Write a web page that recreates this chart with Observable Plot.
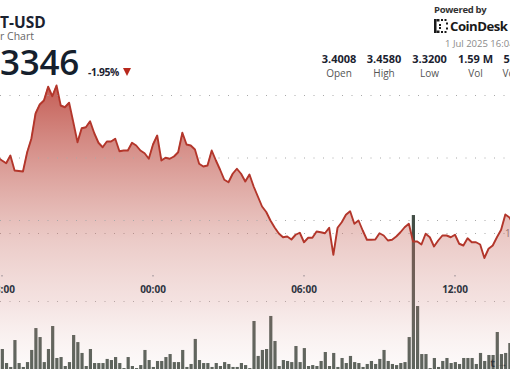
<!DOCTYPE html>
<html><head><meta charset="utf-8">
<script src="https://cdn.jsdelivr.net/npm/d3@7"></script>
<script src="https://cdn.jsdelivr.net/npm/@observablehq/plot@0.6"></script>
<style>
html,body{margin:0;padding:0;background:#fff;}
#wrap{position:relative;width:510px;height:369px;overflow:hidden;font-family:"Open Sans",sans-serif;background:#fff;}
.layer{position:absolute;left:0;top:0;}
.t{position:absolute;white-space:nowrap;line-height:1;}
.stat{position:absolute;width:60px;text-align:center;line-height:1;white-space:nowrap;}
.sv{font-weight:700;font-size:11px;color:#1b2230;}
.sl{font-size:10px;color:#555;margin-top:4px;}
</style></head><body>
<div id="wrap">
  <div id="vol" class="layer"></div>
  <div id="price" class="layer"></div>
  <div class="t cut" data-cut="DO" style="top:14.5px;font-size:15.5px;font-weight:700;color:#1b2230;line-height:0.95;">DOT-USD</div>
  <div class="t cut" data-cut="24 Hou" style="top:31.5px;font-size:10.5px;color:#666;line-height:0.95;">24 Hour Chart</div>
  <div class="t cut" data-cut="3." style="top:44px;font-size:35px;font-weight:600;color:#151f2d;letter-spacing:-0.3px;">3.3346</div>
  <div class="t" style="left:88px;top:67px;font-size:10.3px;font-weight:700;color:#1b2230;letter-spacing:-0.4px;">-1.95%</div>
  <div style="position:absolute;left:123px;top:68px;width:0;height:0;border-left:4.5px solid transparent;border-right:4.5px solid transparent;border-top:8px solid #b8281c;"></div>
  <div class="t" style="left:434px;top:5.3px;font-size:9.5px;font-weight:700;color:#333;letter-spacing:-0.3px;">Powered by</div>
  <svg style="position:absolute;left:434px;top:19px;" width="14" height="14" viewBox="0 0 14 14">
    <g fill="#1a1a1a">
      <rect x="0" y="0" width="2.5" height="14"/><rect x="2.5" y="0" width="3" height="2.5"/><rect x="2.5" y="11.5" width="3" height="2.5"/>
      <rect x="7" y="0" width="2" height="2"/><rect x="10.5" y="0" width="2" height="2"/><rect x="12" y="3.5" width="2" height="2"/>
      <rect x="12" y="8.5" width="2" height="2"/><rect x="7" y="12" width="2" height="2"/><rect x="10.5" y="12" width="2" height="2"/>
      <rect x="5" y="5" width="2" height="2"/><rect x="5" y="8" width="2" height="2"/>
    </g>
  </svg>
  <div class="t" style="left:450px;top:19.8px;font-size:13.2px;font-weight:700;color:#1a1a1a;letter-spacing:-0.5px;">CoinDesk</div>
  <div class="t" style="left:445px;top:38.5px;font-size:9.5px;color:#8a8a8a;">1 Jul 2025 16:04</div>
  <div id="stats"></div>
</div>
<script>
// ---- data ----
const statValues = ["3.4008", "3.4580", "3.3200", "1.59 M", "5.36 M"];
const statLabels = ["Open", "High", "Low", "Vol", "Vol USD"];
const statCenters = [339, 384, 429.5, 475.5, 521];

// price, 10-minute points from 30 Jun 2025 17:50
const priceStart = Date.UTC(2025, 5, 30, 17, 50);
const prices = [
  3.4004, 3.3980, 3.3958, 3.4020, 3.3900, 3.3896, 3.3892, 3.4046, 3.4154, 3.4356,
  3.4428, 3.4460, 3.4570, 3.4494, 3.4580, 3.4420, 3.4406, 3.4442, 3.4286, 3.4126,
  3.4238, 3.4246, 3.4294, 3.4198, 3.4122, 3.4086, 3.4132, 3.4132, 3.4154, 3.4054,
  3.4060, 3.4060, 3.4122, 3.4100, 3.4060, 3.4038, 3.3994, 3.4108, 3.4180, 3.3980,
  3.4002, 3.3994, 3.4012, 3.4046, 3.4202, 3.4108, 3.4100, 3.4068, 3.3954, 3.3932,
  3.3940, 3.4060, 3.3980, 3.3906, 3.3826, 3.3806, 3.3874, 3.3914, 3.3874, 3.3812,
  3.3868, 3.3772, 3.3692, 3.3612, 3.3568, 3.3500, 3.3444, 3.3396, 3.3366, 3.3372,
  3.3348, 3.3386, 3.3402, 3.3326, 3.3362, 3.3362, 3.3412, 3.3406, 3.3398, 3.3442,
  3.3225, 3.3442, 3.3486, 3.3546, 3.3574, 3.3474, 3.3500, 3.3420, 3.3346, 3.3346,
  3.3348, 3.3398, 3.3380, 3.3340, 3.3346, 3.3372, 3.3406, 3.3446, 3.3474, 3.3332,
  3.3332, 3.3308, 3.3394, 3.3366, 3.3292, 3.3340, 3.3380, 3.3380, 3.3366, 3.3386,
  3.3314, 3.3300, 3.3358, 3.3326, 3.3326, 3.3308, 3.3200, 3.3274, 3.3300, 3.3366,
  3.3426, 3.3548, 3.3524, 3.3460
];

// volume (thousands), 10-minute bars from 30 Jun 2025 18:00
const volStart = Date.UTC(2025, 5, 30, 18, 0);
const volumes = [
  14.7, 4.4, 1.5, 21.3, 4.4, 1.5, 5.1, 14.0, 30.1, 23.5,
  5.1, 14.7, 31.6, 8.1, 8.8, 2.2, 5.1, 25.0, 19.8, 11.8,
  2.2, 14.7, 4.4, 4.4, 4.4, 7.4, 6.6, 8.8, 4.4, 0.7,
  8.8, 2.2, 0.7, 2.9, 14.0, 6.6, 1.5, 5.9, 5.9, 8.8,
  11.0, 5.1, 5.1, 14.0, 1.5, 3.7, 22.1, 6.6, 4.4, 4.4,
  1.5, 4.4, 2.2, 5.1, 3.7, 1.5, 1.5, 4.4, 2.9, 0.7,
  35.3, 9.6, 14.0, 14.7, 39.0, 20.6, 2.2, 6.6, 5.9, 5.1,
  16.9, 5.1, 15.4, 2.2, 2.9, 2.2, 5.9, 12.5, 2.2, 11.8,
  1.5, 8.1, 4.4, 9.6, 5.1, 4.4, 1.5, 3.7, 5.9, 3.7,
  7.4, 14.0, 5.9, 3.7, 2.9, 4.4, 5.1, 23.5, 113.2, 46.3,
  11.0, 11.0, 0.7, 8.1, 1.5, 5.9, 8.1, 4.4, 5.1, 3.7,
  8.1, 8.1, 8.1, 3.7, 11.8, 5.9, 10.3, 10.3, 27.2, 11.0,
  11.8, 19.1, 14.7
];

const priceGrid = [3.35, 3.40, 3.45];
const volGrid = [50, 100];
const volGridLabels = ["", "100K"];
const timeTicks = [
  Date.UTC(2025, 5, 30, 18), Date.UTC(2025, 6, 1, 0),
  Date.UTC(2025, 6, 1, 6), Date.UTC(2025, 6, 1, 12)
].map(d => new Date(d));

// visible window and value ranges
const xDomain = [new Date(Date.UTC(2025, 5, 30, 17, 56, 25)), new Date(Date.UTC(2025, 6, 1, 14, 12, 19))];
const priceDomain = [3.2308, 3.526];
const volDomain = [0, 271.3];

const MIN = 60000;
const priceData = prices.map((p, i) => ({t: new Date(priceStart + i * 10 * MIN), p}));
const volData = volumes.map((v, i) => ({t0: new Date(volStart + i * 10 * MIN - 3 * MIN), t1: new Date(volStart + i * 10 * MIN + 7 * MIN), v}));

// ---- volume layer ----
const volPlot = Plot.plot({
  width: 510, height: 369, margin: 0,
  style: {background: "transparent", fontFamily: "Open Sans"},
  x: {type: "utc", domain: xDomain, axis: null},
  y: {domain: volDomain, axis: null},
  marks: [
    Plot.ruleY(volGrid, {stroke: "#a8a8a8", strokeDasharray: "1 8.5"}),
    Plot.rectY(volData, {x1: "t0", x2: "t1", y: "v", fill: "#434e46", insetLeft: 0.5, insetRight: 0.5}),
    Plot.text(volGrid, {y: d => d, text: (d, i) => volGridLabels[i], frameAnchor: "right", textAnchor: "start", dx: -5.5, fill: "#777", fontSize: 10})
  ]
});
document.getElementById("vol").appendChild(volPlot);

// ---- price layer ----
const defs = () => {
  const d = d3.create("svg:defs");
  const g = d.append("linearGradient").attr("id", "areaGrad")
    .attr("gradientUnits", "userSpaceOnUse").attr("x1", 0).attr("y1", 84).attr("x2", 0).attr("y2", 369);
  [[0, "rgb(185,62,52)", 0.84], [0.547, "rgb(200,110,100)", 0.36], [0.758, "rgb(215,150,145)", 0.28], [1, "rgb(240,222,220)", 0.15]]
    .forEach(([o, c, a]) => g.append("stop").attr("offset", o).attr("stop-color", c).attr("stop-opacity", a));
  return d.node();
};

const fmt = d3.utcFormat("%H:%M");
const axisMark = Plot.axisX
  ? Plot.axisX({ticks: timeTicks, anchor: "bottom", dy: -94, tickSize: 1.5, tickPadding: 8.5, tickFormat: fmt,
      fontWeight: "bold", fontSize: 10, color: "#2e3440", strokeOpacity: 0.5})
  : Plot.text(timeTicks, {x: d => d, text: d => fmt(d), frameAnchor: "bottom", dy: -79.5, fontWeight: "bold", fontSize: 10, fill: "#2e3440"});

const pricePlot = Plot.plot({
  width: 510, height: 369, margin: 0,
  style: {background: "transparent", fontFamily: "Open Sans"},
  x: {type: "utc", domain: xDomain},
  y: {domain: priceDomain, axis: null},
  marks: [
    defs,
    Plot.areaY(priceData, {x: "t", y1: priceDomain[0], y2: "p", fill: "url(#areaGrad)"}),
    Plot.ruleY(priceGrid, {stroke: "#a8a8a8", strokeDasharray: "1 8.5"}),
    Plot.lineY(priceData, {x: "t", y: "p", stroke: "#b3362b", strokeWidth: 1.9}),
    axisMark
  ]
});
document.getElementById("price").appendChild(pricePlot);

// ---- stats ----
const st = document.getElementById("stats");
statValues.forEach((v, i) => {
  const el = document.createElement("div");
  el.className = "stat";
  el.style.left = (statCenters[i] - 30) + "px";
  el.style.top = "52.5px";
  el.innerHTML = `<div class="sv">${v}</div><div class="sl">${statLabels[i]}</div>`;
  st.appendChild(el);
});

// ---- shift cut-off header texts so that their tail starts at the left edge ----
document.querySelectorAll(".cut").forEach(el => {
  const cs = getComputedStyle(el);
  const probe = document.createElement("span");
  probe.style.font = cs.font;
  probe.style.letterSpacing = cs.letterSpacing;
  probe.style.position = "absolute"; probe.style.visibility = "hidden"; probe.style.whiteSpace = "pre";
  probe.textContent = el.dataset.cut;
  document.body.appendChild(probe);
  el.style.left = (-probe.getBoundingClientRect().width) + "px";
  probe.remove();
});
</script>
</body></html>
